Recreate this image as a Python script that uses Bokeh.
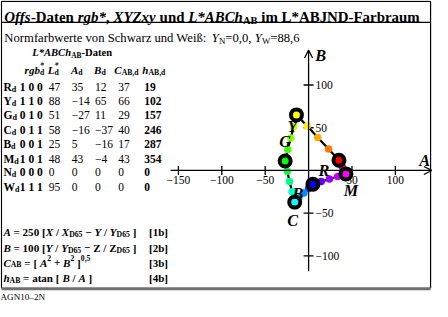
import numpy as np
from bokeh.plotting import figure
from bokeh.models import Range1d, Arrow, OpenHead
from bokeh.core.properties import value
from bokeh.embed import file_html
from bokeh.resources import INLINE

# ---------------- data ----------------
row_names = ["R", "Y", "G", "C", "B", "M", "N", "W"]
rgb_bits = ["1 0 0", "1 1 0", "0 1 0", "0 1 1", "0 0 1", "1 0 1", "0 0 0", "1 1 1"]
L_vals = [47, 88, 51, 58, 25, 48, 0, 95]
A_vals = [35, -14, -27, -16, 5, 43, 0, 0]
B_vals = [12, 65, 11, -37, -16, -4, 0, 0]
C_vals = [37, 66, 29, 40, 17, 43, 0, 0]
h_vals = [19, 102, 157, 246, 287, 354, 0, 0]

# six chromatic corners (hexagon order Y -> R -> M -> B -> C -> G)
corner_names = ["Y", "R", "M", "B", "C", "G"]
corner_A = [-14, 35, 43, 5, -16, -27]
corner_B = [65, 12, -4, -16, -37, 11]
corner_colors = ["#ffff00", "#ff0000", "#ff00ff", "#0000ff", "#00ffff", "#00ff00"]

# intermediate points (3 per edge, same order)
mid_A = [-1.5, 10.5, 23, 37, 39, 41, 33.5, 24, 14.5, 0, -5.5, -11, -19, -22, -24.5, -24, -20.5, -17]
mid_B = [52, 38.5, 25, 8, 4, 0, -7, -10, -13, -21, -26.5, -32, -25, -13, -1, 24.5, 38, 51.5]
mid_colors = ["#ffee00", "#ffaa00", "#ff7700",
              "#ff0040", "#ff0080", "#ff00c0",
              "#cc00ff", "#9900ff", "#6600ff",
              "#0044ff", "#0088ff", "#00ccff",
              "#00ffcc", "#00ff88", "#00ff44",
              "#44ff00", "#88ff00", "#ccff00"]

A_ticks = [-150, -100, -50, 50, 100]
A_tick_labels = ["\u2212150", "\u2212100", "\u221250", "50", "100"]
B_ticks = [100, 50, -50, -100]
B_tick_labels = ["100", "50", "\u221250", "\u2212100"]

# ---------------- layout ----------------
PW, PH = 432, 301
RW, RH = 448.0, 317.0          # reference design space
K = 0.96                        # font scale
OX, OY, S = 319.5, 179.0, 0.9   # origin (design px) and px per unit
FONT = "Liberation Serif"

p = figure(width=PW, height=PH,
           x_range=Range1d(-OX / S, (RW - OX) / S),
           y_range=Range1d((OY - RH) / S, OY / S),
           output_backend="svg", toolbar_location=None, min_border=0,
           x_axis_location=None, y_axis_location=None)
p.grid.visible = False
p.outline_line_color = None
p.background_fill_color = "white"
p.extra_x_ranges = {"rx": Range1d(0, RW)}
p.extra_y_ranges = {"ry": Range1d(RH, 0)}

# ---- font metrics (Times) ----
def _tab(s):
    d = {}
    for tok in s.split():
        d[tok[0]] = int(tok[1:])
    return d

WN = _tab("A722 B667 C667 D722 E611 F556 G722 H722 I333 J389 K722 L611 M889 N722 O722 P556 R667 S556 T611 U722 V722 W944 X722 Y722 Z611 "
          "a444 b500 c444 d500 e444 f333 g500 h500 i278 j278 k500 l278 m778 n500 o500 p500 r333 s389 t278 u500 v500 w722 x500 y500 z444 ß500 "
          ",250 -333 .250 /278 :278 =564 [333 ]333 *500 +564 \u2212564 \u2013500")
WB = _tab("A722 B667 C722 D722 E667 F611 G778 H778 I389 J500 K778 L667 M944 N722 O778 P611 R722 S556 T667 U722 V722 W1000 X722 Y722 Z667 "
          "a500 b556 c444 d556 e444 f333 g500 h556 i278 j333 k556 l278 m833 n556 o500 p556 r444 s389 t333 u556 v500 w722 x500 y500 z444 "
          ",250 -333 .250 /278 :333 =570 [333 ]333 *500 +570 \u2212570 \u2013500")
WI = _tab("A611 B611 C667 N667 W833 Y556 X611 Z556 L556")
WBI = _tab("A667 B667 C667 D722 G722 L611 M889 N722 O722 R667 X667 Y611 Z611 "
           "a500 b500 d500 f333 g500 h556 r389 s389 x500 y444 *500 -333")
TABLES = {"normal": WN, "bold": WB, "italic": WI, "bold italic": WBI}

def width(t, style):
    tab = TABLES[style]
    w = 0
    for ch in t:
        if ch == " ":
            w += 250
        elif ch.isdigit():
            w += 500
        else:
            w += tab.get(ch, WN.get(ch, 500))
    return w / 1000.0

groups = {}

def put(x, y, t, style, size, align="left", baseline="alphabetic"):
    # svg trims outer blanks: shift by the leading blanks and drop them
    lead = len(t) - len(t.lstrip(" "))
    x += lead * 0.25 * size
    t = t.strip(" ")
    if not t:
        return
    key = (style, round(size, 2), align, baseline)
    g = groups.setdefault(key, {"x": [], "y": [], "t": []})
    g["x"].append(x)
    g["y"].append(y)
    g["t"].append(t)

def rich(x, y, parts, size):
    """parts: (text, style, kind) kind in base/sub/sup/supn (sup without advance)"""
    for t, style, kind in parts:
        if kind == "base":
            put(x, y, t, style, size)
            x += width(t, style) * size
        elif kind == "sub":
            s2 = size * 0.7
            put(x, y + size * 0.22, t, style, s2)
            x += width(t, style) * s2
        elif kind == "sup":
            s2 = size * 0.7
            put(x, y - size * 0.38, t, style, s2)
            x += width(t, style) * s2
        elif kind == "supn":
            s2 = size * 0.7
            put(x, y - size * 0.38, t, style, s2)
    return x

B_, BI, N_, I_ = "bold", "bold italic", "normal", "italic"

# ---- frame ----
p.segment(x0=[1, 1, 446, 1], y0=[1, 1, 1, 23], x1=[446, 1, 446, 446], y1=[1, 303, 303, 23],
          x_range_name="rx", y_range_name="ry", line_color="black", line_width=1.2)
p.segment(x0=[1], y0=[303.5], x1=[446], y1=[303.5], x_range_name="rx", y_range_name="ry",
          line_color="#707070", line_width=3)

# ---- title lines ----
rich(4, 17.5, [("Offs", BI, "base"), ("-Daten ", B_, "base"), ("rgb*", BI, "base"), (", ", B_, "base"),
               ("XYZxy", BI, "base"), (" und ", B_, "base"), ("L*ABCh", BI, "base"), ("AB", B_, "sub"),
               (" im L*ABJND-Farbraum", B_, "base")], 15.5)
rich(4, 39.5, [("Normfarbwerte von Schwarz und Weiß: ", N_, "base"), ("Y", I_, "base"), ("N", N_, "sub"),
               ("=0,0, ", N_, "base"), ("Y", I_, "base"), ("W", N_, "sub"), ("=88,6", N_, "base")], 13.2)
rich(33, 55, [("L*ABCh", BI, "base"), ("AB", B_, "sub"), ("-Daten", B_, "base")], 11)

# ---- table header ----
HS = 11.5
HY = 73
col_L, col_A, col_B, col_C, col_h = 50, 74, 98, 122, 149
rich(25, HY, [("rgb", BI, "base"), ("*", BI, "supn"), ("d", B_, "sub")], HS)
rich(col_L - 1, HY, [("L", BI, "base"), ("*", BI, "supn"), ("d", B_, "sub")], HS)
rich(col_A - 1, HY, [("A", BI, "base"), ("d", B_, "sub")], HS)
rich(col_B - 1, HY, [("B", BI, "base"), ("d", B_, "sub")], HS)
rich(col_C - 4, HY, [("C", BI, "base"), ("AB,d", B_, "sub")], HS)
rich(col_h - 2, HY, [("h", BI, "base"), ("AB,d", B_, "sub")], HS)

# ---- table rows ----
RS = 12
row_y = [91, 106, 121, 136.5, 151.5, 166.5, 181, 196]
def num(v):
    return str(v).replace("-", "\u2212")
for i, nm in enumerate(row_names):
    y = row_y[i]
    rich(3, y, [(nm, B_, "base"), ("d", B_, "sub")], RS)
    put(20, y, rgb_bits[i], B_, RS)
    put(col_L, y, num(L_vals[i]), N_, RS)
    put(col_A, y, num(A_vals[i]), N_, RS)
    put(col_B, y, num(B_vals[i]), N_, RS)
    put(col_C, y, num(C_vals[i]), N_, RS)
    put(col_h, y, num(h_vals[i]), B_, RS)

# ---- formulas ----
FS = 11.5
fy = [244, 260.5, 276, 292]
rich(3, fy[0], [("A", BI, "base"), (" = 250 [", B_, "base"), ("X", BI, "base"), (" / ", B_, "base"),
                ("X", BI, "base"), ("D65", B_, "sub"), (" \u2212 ", B_, "base"), ("Y", BI, "base"),
                (" / ", B_, "base"), ("Y", BI, "base"), ("D65", B_, "sub"), (" ]", B_, "base")], FS)
rich(3, fy[1], [("B", BI, "base"), (" = 100 [", B_, "base"), ("Y", BI, "base"), (" / ", B_, "base"),
                ("Y", BI, "base"), ("D65", B_, "sub"), (" \u2212 ", B_, "base"), ("Z", B_, "base"),
                (" / ", B_, "base"), ("Z", B_, "base"), ("D65", B_, "sub"), (" ]", B_, "base")], FS)
rich(3, fy[2], [("C", BI, "base"), ("AB", B_, "sub"), (" = [ ", B_, "base"), ("A", BI, "base"),
                ("2", B_, "sup"), (" + ", B_, "base"), ("B", BI, "base"), ("2", B_, "sup"),
                (" ]", B_, "base"), ("0,5", B_, "sup")], FS)
rich(3, fy[3], [("h", BI, "base"), ("AB", B_, "sub"), (" = atan [ ", B_, "base"), ("B", BI, "base"),
                (" / ", B_, "base"), ("A", BI, "base"), (" ]", B_, "base")], FS)
for j, lab in enumerate(["[1b]", "[2b]", "[3b]", "[4b]"]):
    put(154, fy[j], lab, B_, FS)

put(0, 312.5, "AGN10\u20132N", N_, 9.5)

# ---- axes (drawn through the data scales) ----
p.add_layout(Arrow(end=OpenHead(size=8, line_width=1.3, line_color="black"),
                   x_start=-159, y_start=0, x_end=142, y_end=0, line_width=1.3, line_color="black"))
p.add_layout(Arrow(end=OpenHead(size=8, line_width=1.3, line_color="black"),
                   x_start=0, y_start=-118, x_end=0, y_end=141, line_width=1.3, line_color="black"))
p.scatter(x=A_ticks, y=[0] * len(A_ticks), marker="dash", angle=np.pi / 2, size=9,
          line_color="black", line_width=1.3)
p.scatter(x=[0] * len(B_ticks), y=B_ticks, marker="dash", size=10, line_color="black", line_width=1.3)
p.text(x=A_ticks, y=[0] * len(A_ticks), text=A_tick_labels, text_align="center", text_baseline="top",
       y_offset=6, text_font=value(FONT), text_font_size=f"{12 * K:.1f}px", text_color="black")
p.text(x=[0] * len(B_ticks), y=B_ticks, text=B_tick_labels, text_align="left", text_baseline="middle",
       x_offset=7, text_font=value(FONT), text_font_size=f"{12 * K:.1f}px", text_color="black")

# ---- hexagon path ----
path_A, path_B = [], []
for i in range(6):
    path_A.append(corner_A[i]); path_B.append(corner_B[i])
    path_A.extend(mid_A[3 * i:3 * i + 3]); path_B.extend(mid_B[3 * i:3 * i + 3])
path_A.append(corner_A[0]); path_B.append(corner_B[0])
p.line(path_A, path_B, line_color="black", line_width=2.2)
p.scatter(mid_A, mid_B, size=7.5, fill_color=mid_colors, line_color=None)
p.scatter(corner_A, corner_B, size=11, fill_color=corner_colors, line_color="black", line_width=4)

# corner labels (offsets in screen px from each corner)
lab_dx = [-4, -15, 5, -15, -2, 0]
lab_dy = [12, 10, 17, 9, 18, -20]
p.text(x=corner_A, y=corner_B, text=corner_names, x_offset=lab_dx, y_offset=lab_dy,
       text_align="center", text_baseline="middle", text_font=value(FONT),
       text_font_style="bold italic", text_font_size=f"{17 * K:.1f}px", text_color="black")

# axis names
put(440, 168, "A", BI, 17, align="center", baseline="middle")
put(332, 57.5, "B", BI, 17, align="center", baseline="middle")

# ---- emit grouped texts ----
for (style, size, align, baseline), g in groups.items():
    p.text(x=g["x"], y=g["y"], text=g["t"], x_range_name="rx", y_range_name="ry",
           text_font=value(FONT), text_font_style=style, text_font_size=f"{size * K:.2f}px",
           text_align=align, text_baseline=baseline, text_color="black")

open("out.html", "w").write(file_html(p, INLINE))
